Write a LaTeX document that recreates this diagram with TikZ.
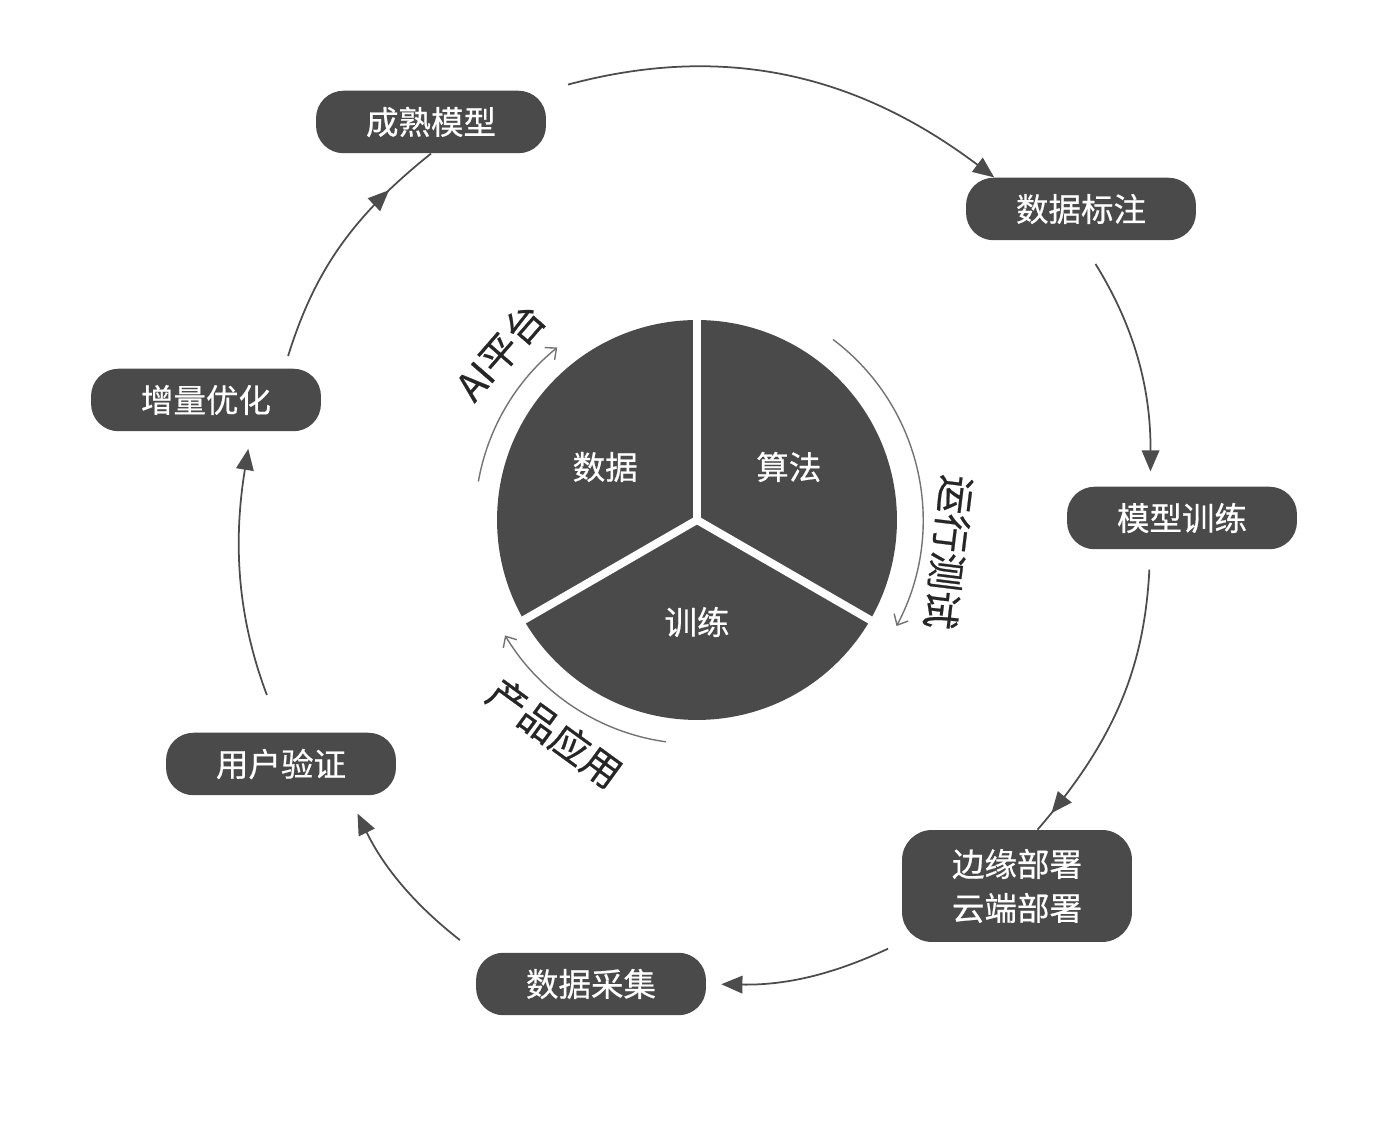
\documentclass[tikz,border=0pt]{standalone}
\usepackage{fontspec}
\setmainfont{Noto Sans CJK SC}
\newfontfamily\heavyfont[FakeBold=0.6]{Noto Sans CJK SC}
\usetikzlibrary{arrows.meta,decorations.markings,calc}
\definecolor{slate}{HTML}{4A4A4A}
\definecolor{wire}{HTML}{4C4C4C}
\tikzset{
  stage/.style={fill=slate, text=white, rounded corners=0.55cm,
    minimum width=4.6cm, minimum height=1.25cm,
    font=\heavyfont\fontsize{18.5}{25}\selectfont, align=center},
  flow/.style={color=wire, line width=1pt, -{Triangle[length=12pt,width=10pt]}},
  midflow/.style={color=wire, line width=1pt, postaction={decorate},
    decoration={markings, mark=at position #1 with {\arrow{Triangle[length=12pt,width=10pt]}}}},
  ring/.style={color=black!55, line width=0.8pt, -{Straight Barb[length=5pt,width=9pt]}},
  ringtext/.style={text=black!85, font=\heavyfont\fontsize{22}{22}\selectfont},
  wedge/.style={text=white, font=\heavyfont\fontsize{18.5}{18}\selectfont}
}
\begin{document}
\begin{tikzpicture}[x=0.02cm, y=0.02cm]
  \useasboundingbox (0,0) rectangle (1389,1132);
  % centre pie
  \coordinate (ctr) at (697,612);
  \fill[slate] (ctr) circle[radius=4cm];
  \foreach \a in {90,210,330}
    \draw[white, line width=4.5pt] (ctr) -- ++(\a:212);
  \node[wedge] (data) at ($(ctr)+(150:106)$) {数据};
  \node[wedge] (algo) at ($(ctr)+(30:106)$) {算法};
  \node[wedge] (fit) at ($(ctr)+(270:102)$) {训练};
  % rings round the pie
  \draw[ring] ($(ctr)+(170:222)$) arc[start angle=170, end angle=129, radius=4.44cm];
  \draw[ring] ($(ctr)+(53:226)$) arc[start angle=53, end angle=-28, radius=4.52cm];
  \draw[ring] ($(ctr)+(262:224)$) arc[start angle=262, end angle=211, radius=4.48cm];
  \node[ringtext, rotate=49, inner sep=0pt] (ai) at ($(ctr)+(139.5:259)$) {AI平台};
  \node[ringtext, rotate=-97, inner sep=0pt] (run) at ($(ctr)+(-7.3:254)$) {运行测试};
  \node[ringtext, rotate=-36, inner sep=0pt] (app) at ($(ctr)+(236.3:256)$) {产品应用};
  % outer stages
  \node[stage] (mature) at (431,1010) {成熟模型};
  \node[stage] (label) at (1081,923) {数据标注};
  \node[stage] (train) at (1182,614) {模型训练};
  \node[stage, minimum height=2.24cm, rounded corners=0.6cm] (deploy) at (1017,246) {边缘部署\\云端部署};
  \node[stage] (collect) at (591,148) {数据采集};
  \node[stage] (verify) at (281,368) {用户验证};
  \node[stage] (tune) at (206,732) {增量优化};
  \draw[flow, shorten <=0.45cm] (mature.north east) to[bend left=26] (label.160);
  \draw[flow, shorten <=0.55cm, shorten >=0.3cm] (label.south) to[bend left=16] (train.135);
  \draw[midflow=0.93, shorten <=0.4cm] (train.225) to[bend left=19] (deploy.70);
  \draw[flow, shorten <=0.3cm, shorten >=0.3cm] (deploy.south west) to[bend left=13] (collect.east);
  \draw[flow, shorten <=0.4cm, shorten >=0.4cm] (collect.north west) to[bend left=13] (verify.335);
  \draw[flow, shorten <=0.8cm, shorten >=0.35cm] (verify.north) to[bend left=15] (tune.325);
  \draw[midflow=0.79, shorten <=0.26cm] (tune.22) to[bend left=17] (mature.south);
\end{tikzpicture}
\end{document}
